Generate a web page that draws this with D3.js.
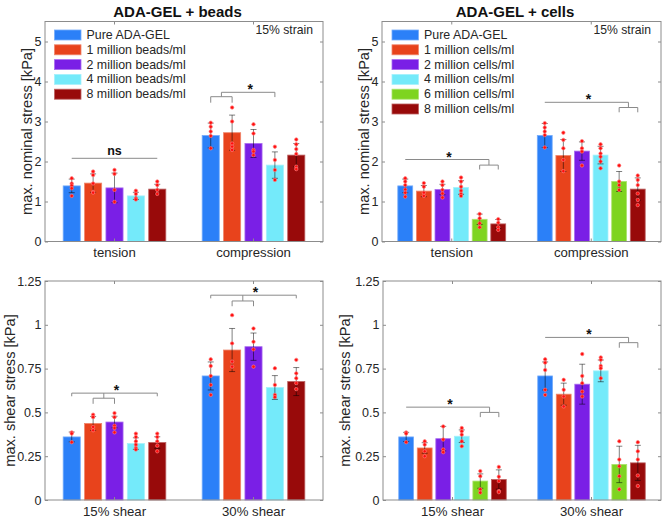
<!DOCTYPE html>
<html><head><meta charset="utf-8">
<script src="https://cdn.jsdelivr.net/npm/d3@7"></script>
<style>
body{margin:0;background:#fff;}
svg{display:block;font-family:"Liberation Sans",Arial,Helvetica,sans-serif;}
</style>
</head><body>
<svg id="c" width="663" height="518"></svg>
<script>
// ---------- DATA ----------
const stressCategories = ["tension", "compression"];
const shearCategories = ["15% shear", "30% shear"];
const beadSeries = ["Pure ADA-GEL", "1 million beads/ml", "2 million beads/ml", "4 million beads/ml", "8 million beads/ml"];
const cellSeries = ["Pure ADA-GEL", "1 million cells/ml", "2 million cells/ml", "4 million cells/ml", "6 million cells/ml", "8 million cells/ml"];
const stressTicks = [0, 1, 2, 3, 4, 5];
const shearTicks = [0, 0.25, 0.5, 0.75, 1, 1.25];

// ADA-GEL + beads, max. nominal stress [kPa]
const beadStressMean = [[1.39, 1.46, 1.34, 1.14, 1.31], [2.65, 2.72, 2.45, 1.91, 2.16]];
const beadStressSD = [[0.17, 0.23, 0.37, 0.09, 0.12], [0.31, 0.44, 0.35, 0.33, 0.29]];
const beadStressPoints = [
  [[1.58, 1.45, 1.40, 1.33, 1.14], [1.75, 1.66, 1.45, 1.24, 1.22], [1.79, 1.69, 1.29, 0.99], [1.27, 1.19, 1.08, 1.05], [1.50, 1.41, 1.29, 1.19]],
  [[2.97, 2.87, 2.75, 2.64, 2.33], [3.35, 3.00, 2.45, 2.37, 2.29], [2.93, 2.70, 2.29, 2.25, 2.16], [2.37, 2.04, 1.79, 1.54], [2.55, 2.43, 2.31, 2.19, 1.87, 1.81]]
];
// ADA-GEL + cells, max. nominal stress [kPa]
const cellStressMean = [[1.39, 1.26, 1.30, 1.35, 0.555, 0.44], [2.65, 2.15, 2.26, 2.16, 1.50, 1.31]];
const cellStressSD = [[0.17, 0.14, 0.13, 0.17, 0.13, 0.11], [0.30, 0.40, 0.23, 0.22, 0.25, 0.28]];
const cellStressPoints = [
  [[1.58, 1.50, 1.41, 1.30, 1.22, 1.12], [1.46, 1.37, 1.22, 1.14], [1.50, 1.41, 1.29, 1.20, 1.10], [1.60, 1.50, 1.37, 1.27, 1.19, 1.14], [0.69, 0.58, 0.455, 0.355], [0.56, 0.47, 0.355, 0.29]],
  [[2.96, 2.85, 2.75, 2.66, 2.35], [2.72, 2.54, 2.33, 2.04, 1.76], [2.51, 2.33, 2.25, 1.90], [2.43, 2.33, 2.20, 2.12, 2.00, 1.83], [1.90, 1.50, 1.41, 1.29], [1.65, 1.54, 1.41, 1.20, 1.04, 0.91]]
];
// ADA-GEL + beads, max. shear stress [kPa]
const beadShearMean = [[0.36, 0.437, 0.445, 0.322, 0.328], [0.708, 0.856, 0.875, 0.642, 0.676]];
const beadShearSD = [[0.028, 0.04, 0.033, 0.033, 0.033], [0.08, 0.123, 0.078, 0.068, 0.08]];
const beadShearPoints = [
  [[0.386, 0.379, 0.33], [0.487, 0.473, 0.417, 0.398], [0.496, 0.473, 0.424, 0.411, 0.386], [0.379, 0.36, 0.335, 0.316, 0.297, 0.288], [0.379, 0.36, 0.335, 0.31, 0.278]],
  [[0.803, 0.765, 0.708, 0.657, 0.60], [1.055, 0.894, 0.79, 0.761], [0.979, 0.903, 0.86, 0.761], [0.752, 0.657, 0.60, 0.587], [0.80, 0.723, 0.695, 0.667, 0.633]]
];
// ADA-GEL + cells, max. shear stress [kPa]
const cellShearMean = [[0.36, 0.297, 0.35, 0.364, 0.108, 0.117], [0.708, 0.604, 0.661, 0.737, 0.203, 0.212]];
const cellShearSD = [[0.026, 0.03, 0.07, 0.036, 0.041, 0.055], [0.08, 0.063, 0.114, 0.062, 0.104, 0.1]];
const cellShearPoints = [
  [[0.386, 0.379, 0.33], [0.335, 0.316, 0.278, 0.25], [0.42, 0.345, 0.288, 0.273], [0.411, 0.392, 0.373, 0.335, 0.307], [0.165, 0.136, 0.061, 0.042], [0.189, 0.133, 0.108, 0.051, 0.045]],
  [[0.803, 0.784, 0.742, 0.629, 0.60], [0.686, 0.629, 0.591, 0.534], [0.833, 0.708, 0.667, 0.619, 0.591], [0.814, 0.80, 0.765, 0.752, 0.695], [0.335, 0.231, 0.193, 0.136, 0.061], [0.33, 0.278, 0.231, 0.14, 0.08]]
];

// significance annotations (bar indices; fractional = between bars; levels in data units)
const beadStressSig = [
  {group: 0, from: 0, to: 4, level: 2.08, ticks: [null, null], label: "ns"},
  {group: 1, from: 0.5, to: 3, level: 3.73, ticks: [null, 3.61], subFrom: 0, subTo: 1, subLevel: 3.62, subTick: 3.47, label: "*"}
];
const cellStressSig = [
  {group: 0, from: 0, to: 4.5, level: 2.05, ticks: [null, null], subFrom: 4, subTo: 5, subLevel: 1.91, subTick: 1.80, label: "*"},
  {group: 1, from: 0, to: 4.5, level: 3.48, ticks: [null, null], subFrom: 4, subTo: 5, subLevel: 3.35, subTick: 3.23, label: "*"}
];
const beadShearSig = [
  {group: 0, from: 0, to: 4, level: 0.61, ticks: [0.592, 0.592], subFrom: 1, subTo: 2, subLevel: 0.581, subTick: 0.549, label: "*"},
  {group: 1, from: 0, to: 4, level: 1.169, ticks: [1.151, 1.151], subFrom: 1, subTo: 2, subLevel: 1.136, subTick: 1.106, label: "*"}
];
const cellShearSig = [
  {group: 0, from: 0, to: 4.5, level: 0.53, ticks: [null, null], subFrom: 4, subTo: 5, subLevel: 0.50, subTick: 0.473, label: "*"},
  {group: 1, from: 0, to: 4.5, level: 0.928, ticks: [null, null], subFrom: 4, subTo: 5, subLevel: 0.898, subTick: 0.869, label: "*"}
];

// ---------- STYLE ----------
const beadColors = ["#2b80f8", "#e8431c", "#7a1fe6", "#74eafa", "#980a0a"];
const cellColors = ["#2b80f8", "#e8431c", "#7a1fe6", "#74eafa", "#7ed420", "#980a0a"];
const FONT_TICK = 12.5, FONT_CAT = 13.2, FONT_YLAB = 14.6, FONT_LEG = 12.4;

const svg = d3.select("#c");

function drawPanel(cfg) {
  const {L, R, T, B, ymax, cats, series, colors, mean, sd, pts, sig, yTicks} = cfg;
  const g = svg.append("g");
  const x = d3.scaleBand().domain(cats).range([L, R]).padding(0);
  const n = series.length;
  const gw = Math.min(0.8, n / (n + 1.5)) * x.bandwidth();
  const inner = d3.scaleBand().domain(d3.range(n)).range([-gw / 2, gw / 2]).paddingInner(0.2).paddingOuter(0.1);
  const y = d3.scaleLinear().domain([0, ymax]).range([B, T]);
  const bw = inner.bandwidth();
  const cx = (gi, i) => x(cats[gi]) + x.bandwidth() / 2 + inner(i) + bw / 2;
  const cxf = (gi, f) => {
    const a = Math.floor(f), b = Math.ceil(f);
    return cx(gi, a) + (cx(gi, b) - cx(gi, a)) * (f - a);
  };

  // bars
  cats.forEach((c, gi) => {
    series.forEach((s, i) => {
      const col = colors[i];
      g.append("rect")
        .attr("x", cx(gi, i) - bw / 2).attr("width", bw)
        .attr("y", y(mean[gi][i])).attr("height", y(0) - y(mean[gi][i]))
        .attr("fill", col)
        .attr("stroke", d3.interpolateRgb(col, "#ffffff")(0.35)).attr("stroke-width", 0.8);
    });
  });
  // error bars
  cats.forEach((c, gi) => {
    series.forEach((s, i) => {
      const xc = cx(gi, i), lo = y(mean[gi][i] - sd[gi][i]), hi = y(mean[gi][i] + sd[gi][i]);
      const cw = 3;
      g.append("path")
        .attr("d", `M${xc},${lo}V${hi}M${xc - cw},${lo}H${xc + cw}M${xc - cw},${hi}H${xc + cw}`)
        .attr("fill", "none").attr("stroke", "#000").attr("stroke-opacity", 0.5).attr("stroke-width", 1);
    });
  });
  // individual points
  cats.forEach((c, gi) => {
    series.forEach((s, i) => {
      g.selectAll(null).data(pts[gi][i]).enter().append("circle")
        .attr("cx", cx(gi, i)).attr("cy", d => y(d)).attr("r", 1.7)
        .attr("fill", "#ff0d0d").attr("stroke", "#ff7a7a").attr("stroke-opacity", 0.7).attr("stroke-width", 1);
    });
  });

  // axes box and ticks
  g.append("rect").attr("x", L).attr("y", T).attr("width", R - L).attr("height", B - T)
    .attr("fill", "none").attr("stroke", "#8c8c8c").attr("stroke-width", 1);
  const fmt = v => d3.format("~g")(v);
  const ya = g.append("g").attr("transform", `translate(${L},0)`)
    .call(d3.axisLeft(y).tickValues(yTicks).tickFormat(fmt).tickSize(-3).tickPadding(3.5));
  const yr = g.append("g").attr("transform", `translate(${R},0)`)
    .call(d3.axisRight(y).tickValues(yTicks).tickFormat("").tickSize(-3));
  const xa = g.append("g").attr("transform", `translate(0,${B})`)
    .call(d3.axisBottom(x).tickSize(-3).tickPadding(6.5));
  const xt = g.append("g").attr("transform", `translate(0,${T})`)
    .call(d3.axisTop(x).tickSize(-3).tickFormat(""));
  [ya, yr, xa, xt].forEach(a => {
    a.select(".domain").remove();
    a.selectAll(".tick line").attr("stroke", "#8c8c8c");
    a.selectAll("text").attr("fill", "#262626").attr("font-family", "'Liberation Sans',Arial,sans-serif");
  });
  ya.selectAll("text").attr("font-size", FONT_TICK);
  xa.selectAll("text").attr("font-size", FONT_CAT);

  // y label
  g.append("text").attr("transform", `translate(${cfg.ylabX},${(T + B) / 2}) rotate(-90)`)
    .attr("text-anchor", "middle").attr("dominant-baseline", "central")
    .attr("font-size", FONT_YLAB).attr("fill", "#262626").text(cfg.ylabel);

  // title
  if (cfg.title) {
    g.append("text").attr("x", (L + R) / 2 - 6.5).attr("y", 17)
      .attr("text-anchor", "middle").attr("font-weight", "bold").attr("font-size", 15)
      .attr("fill", "#111").text(cfg.title);
  }
  if (cfg.strain) {
    g.append("text").attr("x", R - 10).attr("y", T + 12.5).attr("text-anchor", "end")
      .attr("font-size", 12.2).attr("fill", "#262626").text(cfg.strain);
  }
  // legend
  if (cfg.legend) {
    const lx = L + cfg.legendDx;
    series.forEach((s, i) => {
      const yy = T + 13.5 + i * 14.8;
      g.append("rect").attr("x", lx).attr("y", yy - 5).attr("width", 26.5).attr("height", 10)
        .attr("fill", colors[i]).attr("stroke", d3.interpolateRgb(colors[i], "#ffffff")(0.35)).attr("stroke-width", 0.8);
      g.append("text").attr("x", lx + 32).attr("y", yy).attr("dominant-baseline", "central")
        .attr("font-size", FONT_LEG).attr("fill", "#262626").text(s);
    });
  }

  // significance brackets
  const sc = "#8a8a8a";
  sig.forEach(s => {
    const gi = s.group;
    const x0 = cxf(gi, s.from), x1 = cxf(gi, s.to), ym = y(s.level);
    let d = `M${x0},${ym}H${x1}`;
    if (s.ticks[0] != null) d += `M${x0},${ym}V${y(s.ticks[0])}`;
    if (s.ticks[1] != null) d += `M${x1},${ym}V${y(s.ticks[1])}`;
    if (s.subFrom != null) {
      const sx0 = cx(gi, s.subFrom), sx1 = cx(gi, s.subTo), ys = y(s.subLevel), yt = y(s.subTick);
      const mid = (sx0 + sx1) / 2;
      d += `M${mid},${ym}V${ys}M${sx0},${yt}V${ys}H${sx1}V${yt}`;
    }
    g.append("path").attr("d", d).attr("fill", "none").attr("stroke", sc).attr("stroke-width", 1);
    const isStar = s.label === "*";
    g.append("text").attr("x", (x0 + x1) / 2 + (isStar ? 2 : 0)).attr("y", isStar ? ym + 2 : ym - 3)
      .attr("text-anchor", "middle").attr("font-weight", "bold")
      .attr("font-size", isStar ? 14 : 12.5).attr("fill", "#111").text(s.label);
  });
}

drawPanel({L: 45, R: 323, T: 21.5, B: 241.5, ymax: 5.5, cats: stressCategories, series: beadSeries, colors: beadColors,
  mean: beadStressMean, sd: beadStressSD, pts: beadStressPoints, sig: beadStressSig, yTicks: stressTicks,
  ylabel: "max. nominal stress [kPa]", ylabX: 26.5, title: "ADA-GEL + beads", strain: "15% strain", legend: true, legendDx: 9.5});
drawPanel({L: 382, R: 661, T: 21.5, B: 241.5, ymax: 5.5, cats: stressCategories, series: cellSeries, colors: cellColors,
  mean: cellStressMean, sd: cellStressSD, pts: cellStressPoints, sig: cellStressSig, yTicks: stressTicks,
  ylabel: "max. nominal stress [kPa]", ylabX: 364, title: "ADA-GEL + cells", strain: "15% strain", legend: true, legendDx: 10});
drawPanel({L: 45, R: 323, T: 281, B: 500, ymax: 1.25, cats: shearCategories, series: beadSeries, colors: beadColors,
  mean: beadShearMean, sd: beadShearSD, pts: beadShearPoints, sig: beadShearSig, yTicks: shearTicks,
  ylabel: "max. shear stress [kPa]", ylabX: 9.5, legend: false});
drawPanel({L: 383, R: 661, T: 281, B: 500, ymax: 1.25, cats: shearCategories, series: cellSeries, colors: cellColors,
  mean: cellShearMean, sd: cellShearSD, pts: cellShearPoints, sig: cellShearSig, yTicks: shearTicks,
  ylabel: "max. shear stress [kPa]", ylabX: 345, legend: false});
</script>
</body></html>
